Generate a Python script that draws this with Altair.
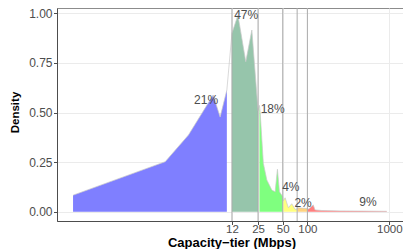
import altair as alt
import pandas as pd

# ---- data ----
groups = ["<12", "12-25", "25-50", "50-75", "75-100", ">100"]
group_colors = ["#7F7FFF", "#96C5AB", "#7FFF7F", "#FFFF7F", "#FFD27F", "#FF7F7F"]

blue_x = [0.138, 1.84, 3.54, 7.08, 8.61, 10.4]
blue_d = [0.083, 0.252, 0.387, 0.588, 0.477, 0.613]

seagreen_x = [12.0, 14.2, 17.7, 21.0, 25.0]
seagreen_d = [0.90, 0.991, 0.756, 0.916, 0.51]

green_x = [26.0, 26.5, 29.0, 32.0, 36.8, 40.4, 43.1, 45.6, 50.0]
green_d = [0.536, 0.504, 0.244, 0.16, 0.109, 0.10, 0.214, 0.10, 0.076]

yellow_x = [50.9, 53.5, 58.6, 64.5, 70.8, 74.5]
yellow_d = [0.055, 0.07, 0.02, 0.04, 0.012, 0.012]

orange_x = [75.5, 85.0, 99.0]
orange_d = [0.02, 0.018, 0.016]

red_x = [101.0, 104.0, 118.0, 124.0, 150.0, 250.0, 450.0, 930.0]
red_d = [0.014, 0.014, 0.034, 0.009, 0.006, 0.004, 0.003, 0.002]

tier_lines = [12, 25, 50, 75, 100]

label_text = ["21%", "47%", "18%", "4%", "2%", "9%"]
label_x = [5.8, 17.9, 37.7, 62.8, 88.6, 550.0]
label_y = [0.563, 0.99, 0.516, 0.124, 0.043, 0.05]

x_ticks = [12, 25, 50, 100, 1000]
y_ticks = [0, 0.25, 0.5, 0.75, 1.0]

# ---- tables ----
series = [
    (groups[0], blue_x, blue_d),
    (groups[1], seagreen_x, seagreen_d),
    (groups[2], green_x, green_d),
    (groups[3], yellow_x, yellow_d),
    (groups[4], orange_x, orange_d),
    (groups[5], red_x, red_d),
]
rows = []
for g, xs, ds in series:
    for xv, dv in zip(xs, ds):
        rows.append({"group": g, "speed": xv, "density": dv, "base": 0.0})
df = pd.DataFrame(rows)
lines_df = pd.DataFrame({"speed": tier_lines})
labels_df = pd.DataFrame({"label": label_text, "speed": label_x, "density": label_y})

xscale = alt.Scale(type="log", domain=[0.0879, 1469], nice=False)
yscale = alt.Scale(domain=[-0.047, 1.027], nice=False, zero=False)

x_enc = alt.X(
    "speed:Q",
    scale=xscale,
    axis=alt.Axis(
        values=x_ticks,
        format="d",
        title="Capacity\u2212tier (Mbps)",
        titleX=174.5,
        titleY=21,
        titleAlign="center",
        titleBaseline="middle",
        labelPadding=-1,
        tickSize=3.5,
    ),
)
y_enc = alt.Y(
    "density:Q",
    scale=yscale,
    axis=alt.Axis(
        values=y_ticks,
        format=".2f",
        title="Density",
        titleX=-42,
        titleY=104,
        titleAngle=-90,
        titleAlign="center",
        titleBaseline="middle",
        labelPadding=1.5,
        tickSize=3.5,
    ),
)

areas = alt.Chart(df).mark_area(opacity=1, line=False).encode(
    x=x_enc,
    y=y_enc,
    y2="base:Q",
    color=alt.Color(
        "group:N",
        scale=alt.Scale(domain=groups, range=group_colors),
        legend=None,
    ),
)

outline = alt.Chart(df).mark_line(color="#C8C8C8", strokeWidth=0.7).encode(
    x=alt.X("speed:Q", scale=xscale),
    y=alt.Y("density:Q", scale=yscale),
)

rules = alt.Chart(lines_df).mark_rule(color="#ABABAB", strokeWidth=1).encode(
    x=alt.X("speed:Q", scale=xscale),
)

texts = alt.Chart(labels_df).mark_text(
    fontSize=12, color="#4D4D4D", align="center", baseline="middle"
).encode(
    x=alt.X("speed:Q", scale=xscale),
    y=alt.Y("density:Q", scale=yscale),
    text="label:N",
)

chart = (
    alt.layer(areas, outline, rules, texts)
    .properties(
        width=346,
        height=213,
        autosize=alt.AutoSizeParams(type="none"),
        padding={"left": 49, "top": 0, "right": 0, "bottom": 28},
        background="white",
    )
    .configure(font="Liberation Sans")
    .configure_view(stroke="#8C8C8C", strokeWidth=1)
    .configure_axis(
        domainColor="#4D4D4D",
        tickColor="#4D4D4D",
        gridColor="#EBEBEB",
        labelColor="#4D4D4D",
        labelFontSize=12,
        titleColor="black",
        titleFontWeight="bold",
        titleFontSize=13,
    )
    .configure_axisX(labelFontSize=11.5)
    .configure_axisY(titleFontSize=11.5)
)

chart.save("out.html", embed_options={"renderer": "svg", "actions": False})
